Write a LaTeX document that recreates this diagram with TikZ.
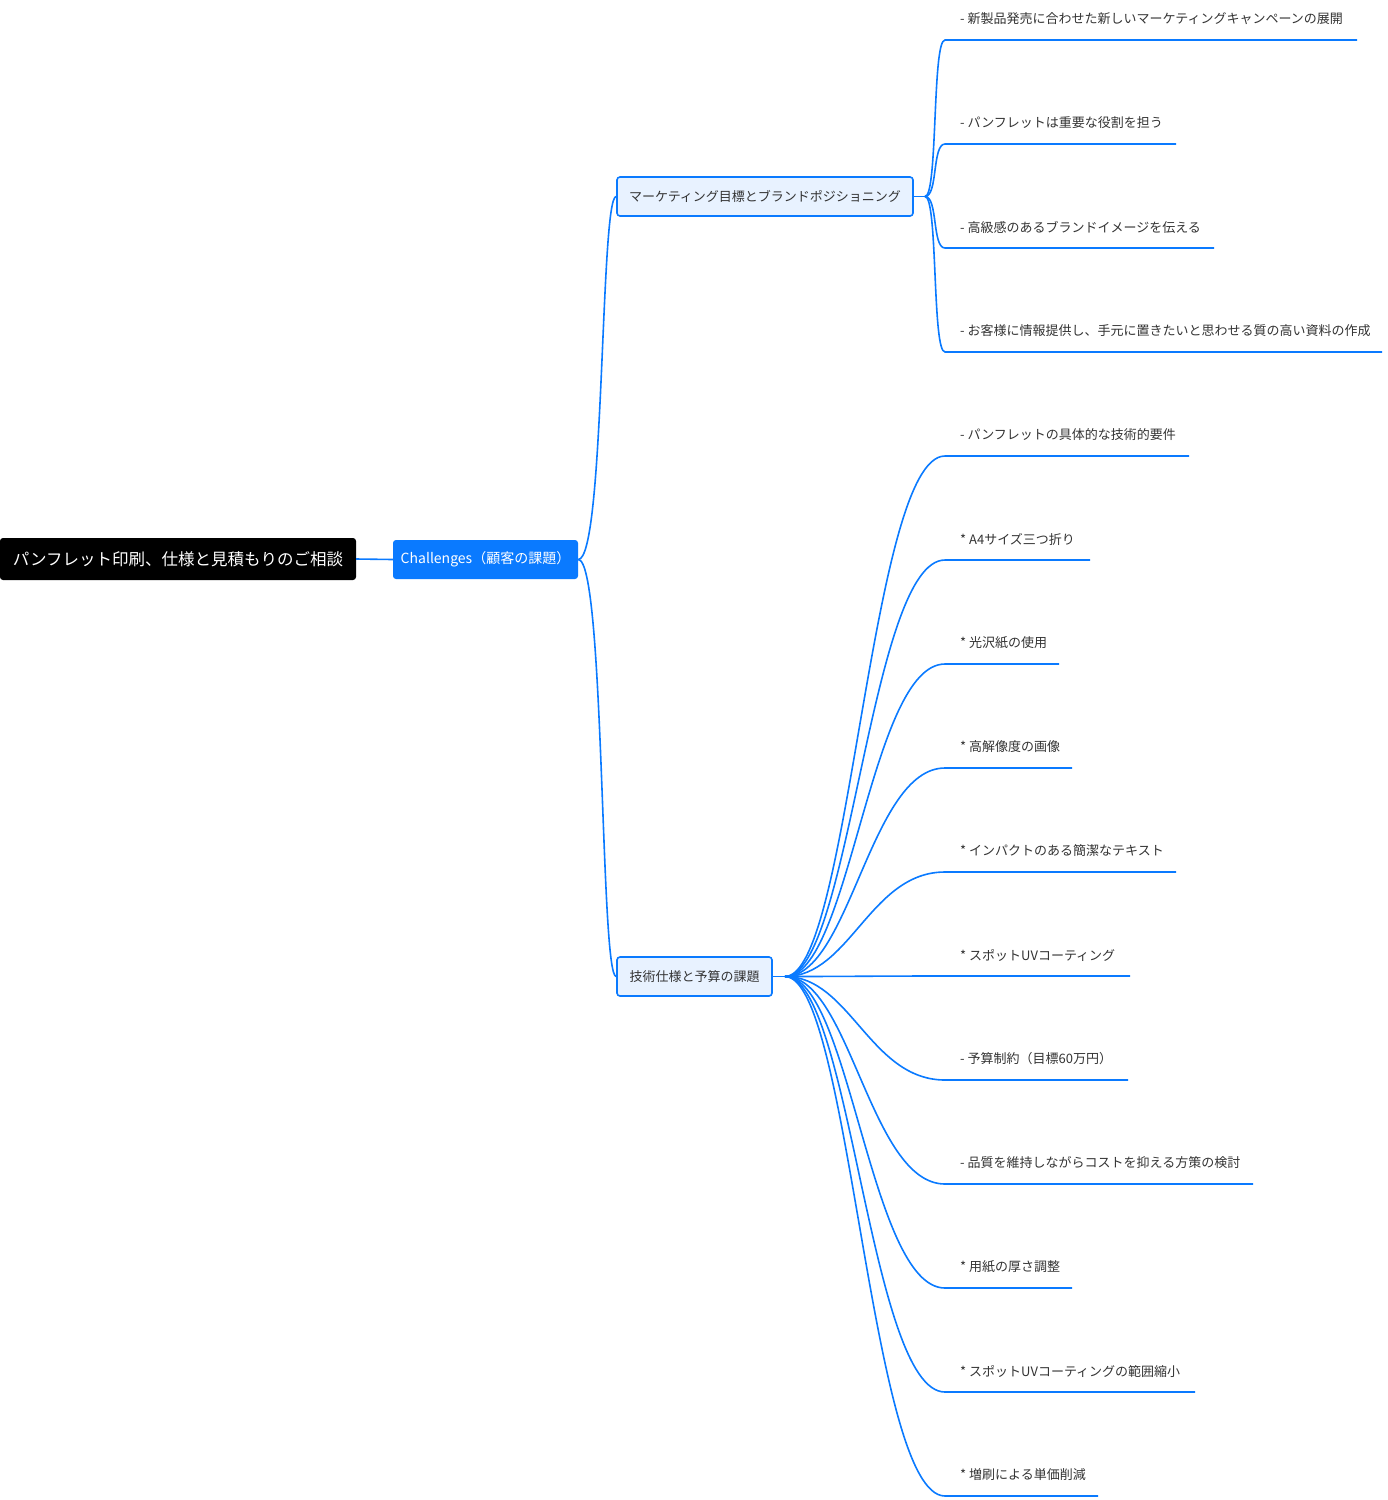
\documentclass[tikz,border=0pt]{standalone}
\usepackage{fontspec}
\setmainfont{Noto Sans CJK JP}
\definecolor{mblue}{HTML}{0A7AFF}
\definecolor{lblue}{HTML}{E8F2FF}
\definecolor{tgray}{HTML}{333333}
\begin{document}
\begin{tikzpicture}[x=1pt,y=-1pt,
  conn/.style={draw=mblue,line width=1.6pt},
  rootbox/.style={fill=black,rounded corners=3pt,text=white,font=\fontsize{16.5}{20}\selectfont,minimum width=356pt,minimum height=42pt,inner sep=0pt},
  chbox/.style={fill=mblue,rounded corners=3pt,text=white,font=\fontsize{14}{17}\selectfont,minimum width=185pt,minimum height=39pt,inner sep=0pt},
  midbox/.style={fill=lblue,draw=mblue,line width=1.6pt,rounded corners=3pt,text=tgray,font=\fontsize{13}{16}\selectfont,minimum height=39pt,inner sep=0pt},
  leaf/.style={anchor=west,text=tgray,font=\fontsize{13}{16}\selectfont,inner sep=0pt}]
\useasboundingbox (0,0) rectangle (1388,1500);
\node[rootbox] (root) at (178,559) {パンフレット印刷、仕様と見積もりのご相談};
\node[chbox] (ch) at (485.5,559.5) {Challenges（顧客の課題）};
\node[midbox,minimum width=296pt] (m1) at (765,196.5) {マーケティング目標とブランドポジショニング};
\node[midbox,minimum width=155pt] (m2) at (694.5,976.5) {技術仕様と予算の課題};
\draw[conn] (root.east) -- (ch.west);
\draw[conn] (ch.east) .. controls (605,559.5) and (600,196.5) .. (m1.west);
\draw[conn] (ch.east) .. controls (605,559.5) and (600,976.5) .. (m2.west);
\coordinate (b1) at (925,196.5);
\coordinate (b2) at (785,976.5);
\draw[conn] (m1.east) -- (b1);
\draw[conn] (m2.east) -- (b2);
\foreach \i/\y/\e/\t in {
 1/40/1357/{- 新製品発売に合わせた新しいマーケティングキャンペーンの展開},
 2/144/1176/{- パンフレットは重要な役割を担う},
 3/248/1214/{- 高級感のあるブランドイメージを伝える},
 4/352/1382/{- お客様に情報提供し、手元に置きたいと思わせる質の高い資料の作成}}{
 \coordinate (s\i) at (945,\y);
 \coordinate (e\i) at (\e,\y);
 \node[leaf] (t\i) at (960,\y-21) {\t};
 \draw[conn] (b1) .. controls (938,196.5) and (932,\y) .. (s\i) -- (e\i);
}
\foreach \i/\y/\e/\t in {
 1/456/1189/{- パンフレットの具体的な技術的要件},
 2/560/1090/{* A4サイズ三つ折り},
 3/664/1059/{* 光沢紙の使用},
 4/768/1072/{* 高解像度の画像},
 5/872/1176/{* インパクトのある簡潔なテキスト},
 6/976/1130/{* スポットUVコーティング},
 7/1080/1128/{- 予算制約（目標60万円）},
 8/1184/1253/{- 品質を維持しながらコストを抑える方策の検討},
 9/1288/1072/{* 用紙の厚さ調整},
 10/1392/1195/{* スポットUVコーティングの範囲縮小},
 11/1496/1098/{* 増刷による単価削減}}{
 \coordinate (u\i) at (945,\y);
 \coordinate (v\i) at (\e,\y);
 \node[leaf] (w\i) at (960,\y-21) {\t};
 \draw[conn] (b2) .. controls (850,976.5) and (870,\y) .. (u\i) -- (v\i);
}
\end{tikzpicture}
\end{document}
